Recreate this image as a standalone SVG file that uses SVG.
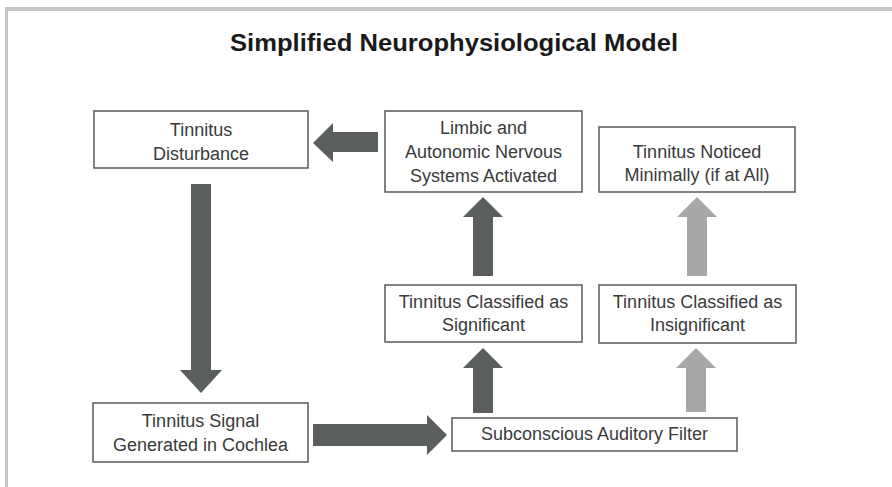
<svg xmlns="http://www.w3.org/2000/svg" width="892" height="487" viewBox="0 0 892 487">
  <style>
    .box { fill: #ffffff; stroke: #5a5a5a; stroke-width: 1.5; }
    .lbl { font-family: "Liberation Sans", Arial, sans-serif; font-size: 18px; fill: #3a3a3a; text-anchor: middle; }
    .title { font-family: "Liberation Sans", Arial, sans-serif; font-size: 24px; font-weight: bold; fill: #1a1a1a; text-anchor: middle; }
    .dark { fill: #5a5e5f; }
    .light { fill: #a6a8a8; }
  </style>
  <rect x="0" y="0" width="892" height="487" fill="#ffffff"/>
  <rect x="5" y="7" width="887" height="4" fill="#c5c7c7"/>
  <rect x="5" y="7" width="3" height="480" fill="#c5c7c7"/>
  <text class="title" x="454" y="51" textLength="448" lengthAdjust="spacingAndGlyphs">Simplified Neurophysiological Model</text>

  <g id="connectors">
    <polygon class="dark" points="378,132 333,132 333,123 313,143 333,162 333,152 378,152"/>
    <polygon class="dark" points="191,184 211,184 211,370 222,370 201,393 180,370 191,370"/>
    <polygon class="dark" points="313,424 427,424 427,415 447,435 427,455 427,446 313,446"/>
    <polygon class="dark" points="473,276 473,217 463,217 483,197 503,217 493,217 493,276"/>
    <polygon class="dark" points="473,413 473,368 463,368 483,348 503,368 493,368 493,413"/>
    <polygon class="light" points="687,276 687,217 677,217 697,197 717,217 707,217 707,276"/>
    <polygon class="light" points="686,412 686,368 676,368 696,348 716,368 706,368 706,412"/>
  </g>

  <g id="disturbance">
    <rect class="box" x="94" y="111" width="214" height="57"/>
    <text class="lbl" x="201" y="136">Tinnitus</text>
    <text class="lbl" x="201" y="160">Disturbance</text>
  </g>
  <g id="limbic">
    <rect class="box" x="385" y="111" width="197" height="81"/>
    <text class="lbl" x="483.5" y="134">Limbic and</text>
    <text class="lbl" x="483.5" y="158">Autonomic Nervous</text>
    <text class="lbl" x="483.5" y="182">Systems Activated</text>
  </g>
  <g id="noticed">
    <rect class="box" x="599" y="127" width="196" height="65"/>
    <text class="lbl" x="697" y="158">Tinnitus Noticed</text>
    <text class="lbl" x="697" y="181">Minimally (if at All)</text>
  </g>
  <g id="significant">
    <rect class="box" x="385" y="285" width="197" height="57"/>
    <text class="lbl" x="483.5" y="308">Tinnitus Classified as</text>
    <text class="lbl" x="483.5" y="331">Significant</text>
  </g>
  <g id="insignificant">
    <rect class="box" x="599" y="285" width="197" height="58"/>
    <text class="lbl" x="697.5" y="308">Tinnitus Classified as</text>
    <text class="lbl" x="697.5" y="331">Insignificant</text>
  </g>
  <g id="signal">
    <rect class="box" x="93" y="403" width="215" height="59"/>
    <text class="lbl" x="200.5" y="427">Tinnitus Signal</text>
    <text class="lbl" x="200.5" y="451">Generated  in Cochlea</text>
  </g>
  <g id="filter">
    <rect class="box" x="452" y="418" width="285" height="33"/>
    <text class="lbl" x="594.5" y="440">Subconscious Auditory Filter</text>
  </g>
</svg>
